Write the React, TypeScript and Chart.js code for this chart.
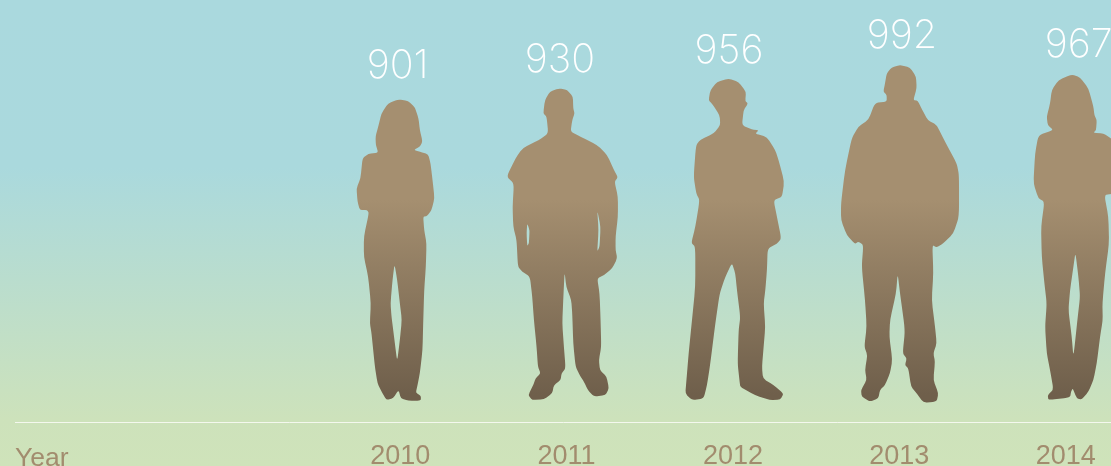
import React, { useEffect, useRef } from "react";
import { Chart, registerables } from "chart.js";

Chart.register(...registerables);

const years = [2010, 2011, 2012, 2013, 2014];
const counts = [901, 930, 956, 992, 967];
const axisName = "Year";

type Figure = { anchor: number; top: number; labelDx: number; labelDy: number; outline: number[][]; holes: number[][][] };

const figures: Figure[] = [
  {
    anchor: 181, top: 28, labelDx: -2.5, labelDy: -21,
    outline: [[175,28],[205,33],[225,52],[236,85],[240,120],[248,155],[240,170],[222,180],[240,185],[265,193],[272,220],[278,270],[284,325],[275,360],[262,378],[250,380],[253,420],[260,460],[258,530],[253,600],[250,700],[248,780],[240,850],[232,890],[228,908],[243,918],[243,932],[205,932],[183,925],[176,900],[160,925],[140,930],[125,905],[113,880],[105,830],[95,730],[90,700],[93,640],[85,560],[72,500],[72,440],[87,370],[82,360],[60,360],[53,335],[50,295],[62,265],[68,205],[85,192],[115,188],[108,165],[107,140],[115,110],[125,70],[145,40]],
    holes: [[[164,522],[172,570],[180,640],[186,690],[180,750],[172,815],[165,760],[155,680],[152,640],[158,570]]],
  },
  {
    anchor: 198, top: 25, labelDx: -6.6, labelDy: -16.7,
    outline: [[175,25],[200,30],[217,50],[218,85],[222,100],[215,120],[210,155],[240,170],[290,195],[320,225],[340,270],[352,292],[342,305],[352,350],[352,410],[345,470],[345,510],[350,535],[335,565],[310,585],[290,595],[297,640],[300,720],[302,800],[295,840],[298,870],[318,890],[325,925],[315,945],[280,950],[262,930],[250,905],[240,890],[225,860],[218,790],[215,700],[212,660],[197,620],[192,575],[188,660],[185,730],[190,800],[195,865],[183,880],[180,900],[160,915],[155,940],[130,958],[95,960],[83,945],[98,915],[105,895],[120,880],[112,860],[108,800],[100,720],[95,650],[88,590],[65,575],[52,560],[48,480],[38,440],[36,380],[40,310],[18,290],[45,235],[65,205],[115,180],[143,160],[138,110],[128,100],[133,60],[148,35]],
    holes: [[[80,430],[87,450],[85,490],[80,498],[78,460]],[[290,390],[300,440],[297,500],[290,515],[294,450]]],
  },
  {
    anchor: 158, top: 25, labelDx: -4, labelDy: -16,
    outline: [[145,25],[175,35],[197,65],[195,92],[203,100],[190,120],[185,165],[215,178],[235,180],[225,190],[260,200],[285,240],[295,270],[312,335],[305,380],[280,390],[290,440],[303,505],[290,520],[262,535],[260,600],[255,660],[250,700],[255,770],[250,830],[245,890],[248,925],[280,945],[310,970],[300,988],[270,990],[225,975],[180,950],[178,935],[172,880],[175,780],[180,740],[170,660],[165,610],[155,578],[135,620],[118,670],[105,760],[90,880],[80,945],[70,985],[35,990],[15,970],[18,935],[25,850],[35,750],[45,650],[45,530],[33,518],[45,470],[58,390],[48,370],[40,320],[47,225],[60,208],[100,190],[120,165],[118,135],[95,100],[85,90],[90,60],[110,35]],
    holes: [],
  },
  {
    anchor: 193, top: 15, labelDx: 2.6, labelDy: -17,
    outline: [[195,15],[225,22],[243,50],[245,85],[235,120],[248,122],[262,150],[278,180],[305,195],[330,245],[365,310],[372,345],[372,470],[355,520],[325,550],[305,562],[292,555],[295,640],[290,720],[300,800],[305,850],[295,880],[300,905],[295,960],[310,1000],[305,1025],[265,1028],[245,1000],[228,980],[220,925],[210,915],[215,895],[203,880],[210,810],[195,700],[188,640],[183,700],[165,780],[163,830],[172,900],[165,940],[150,975],[135,990],[130,1015],[105,1025],[80,1010],[78,990],[95,960],[90,930],[97,885],[88,860],[95,800],[90,720],[80,620],[85,555],[70,545],[60,552],[35,525],[18,480],[18,430],[30,330],[50,235],[70,200],[100,180],[120,128],[155,125],[155,105],[145,95],[150,70],[155,40],[170,22]],
    holes: [],
  },
  {
    anchor: 122, top: 13, labelDx: 13, labelDy: -17,
    outline: [[140,13],[165,22],[190,55],[205,110],[208,135],[215,150],[213,180],[205,188],[235,190],[258,205],[275,225],[285,300],[280,360],[258,372],[238,375],[250,440],[252,520],[240,610],[232,700],[233,750],[225,800],[215,880],[205,930],[190,965],[170,988],[155,985],[143,955],[138,965],[135,982],[70,990],[68,975],[85,958],[75,900],[65,850],[60,770],[65,700],[58,640],[50,560],[48,470],[58,395],[40,385],[25,340],[30,250],[40,195],[85,180],[68,165],[65,140],[75,100],[80,60],[100,30]],
    holes: [[[151,547],[160,620],[165,680],[158,740],[145,862],[140,800],[130,720],[135,660],[145,590]]],
  },
];

const TAN = "#a28c6e";
const DARK = "#6f5f4b";

const pictogram = {
  id: "pictogram",
  beforeDraw(chart: any) {
    const { ctx, width, height } = chart;
    const g = ctx.createLinearGradient(0, 0, 0, height);
    g.addColorStop(0, "#aad9de");
    g.addColorStop(0.36, "#aad9dd");
    g.addColorStop(0.9, "#cde2bb");
    g.addColorStop(1, "#cfe3ba");
    ctx.save();
    ctx.fillStyle = g;
    ctx.fillRect(0, 0, width, height);
    ctx.restore();
  },
  afterDatasetsDraw(chart: any) {
    const { ctx } = chart;
    const bars = chart.getDatasetMeta(0).data;
    const fill = ctx.createLinearGradient(0, 0, 0, chart.height);
    fill.addColorStop(0, "#a58f70");
    fill.addColorStop(200 / chart.height, "#a58f70");
    fill.addColorStop(395 / chart.height, DARK);
    fill.addColorStop(1, DARK);
    bars.forEach((bar: any, i: number) => {
      const f = figures[i];
      const px = (p: number[]) => [bar.x + (p[0] - f.anchor) / 3, bar.y + (p[1] - f.top) / 3];
      ctx.save();
      ctx.fillStyle = fill;
      ctx.beginPath();
      [f.outline, ...f.holes].forEach((ring) => {
        const pts = ring.map(px);
        const n = pts.length;
        const along = (a: number[], b: number[], t: number) => [a[0] + (b[0] - a[0]) * t, a[1] + (b[1] - a[1]) * t];
        pts.forEach((p, k) => {
          const a = along(p, pts[(k + n - 1) % n], 0.28);
          const b = along(p, pts[(k + 1) % n], 0.28);
          if (k === 0) ctx.moveTo(a[0], a[1]);
          else ctx.lineTo(a[0], a[1]);
          ctx.quadraticCurveTo(p[0], p[1], b[0], b[1]);
        });
        ctx.closePath();
      });
      ctx.fill("evenodd");
      ctx.fillStyle = "#ffffff";
      ctx.font = "200 39.5px Inter";
      ctx.textAlign = "center";
      ctx.textBaseline = "alphabetic";
      ctx.fillText(String(counts[i]), bar.x + f.labelDx, bar.y + f.labelDy);
      ctx.restore();
    });
    const xs = chart.scales.x;
    ctx.save();
    ctx.fillStyle = TAN;
    ctx.font = "26.5px 'Liberation Sans'";
    ctx.textAlign = "left";
    ctx.textBaseline = "alphabetic";
    ctx.fillText(axisName, xs.left, 466);
    ctx.restore();
  },
};

export default function App() {
  const ref = useRef<HTMLCanvasElement>(null);
  useEffect(() => {
    document.body.style.margin = "0";
    const chart = new Chart(ref.current!, {
      type: "bar",
      data: {
        datasets: [
          {
            data: years.map((y, i) => ({ x: y, y: counts[i] })),
            backgroundColor: "rgba(0,0,0,0)",
            borderWidth: 0,
            barThickness: 1,
          },
        ],
      },
      options: {
        animation: false,
        responsive: false,
        maintainAspectRatio: false,
        layout: { padding: { left: 15, top: 0, right: 0, bottom: 0 } },
        plugins: { legend: { display: false }, tooltip: { enabled: false }, title: { display: false } },
        scales: {
          x: {
            type: "linear",
            offset: false,
            min: 2007.685,
            max: 2014.272,
            grid: { display: false, drawTicks: false, offset: false },
            border: { display: true, color: "#f4f8ee", width: 1 },
            afterBuildTicks(s: any) {
              s.ticks = years.map((value) => ({ value }));
            },
            afterFit(s: any) {
              s.height = 44;
              s.paddingLeft = 0;
              s.paddingRight = 0;
            },
            ticks: {
              autoSkip: false,
              maxRotation: 0,
              padding: 18,
              color: TAN,
              font: { family: "'Liberation Sans'", size: 27 },
              callback: (v: any) => String(v),
            },
          },
          y: { display: false, min: 45, max: 1164.4, beginAtZero: false },
        },
      },
      plugins: [pictogram],
    } as any);
    return () => chart.destroy();
  }, []);
  return <canvas ref={ref} width={1111} height={466} style={{ display: "block" }} />;
}
